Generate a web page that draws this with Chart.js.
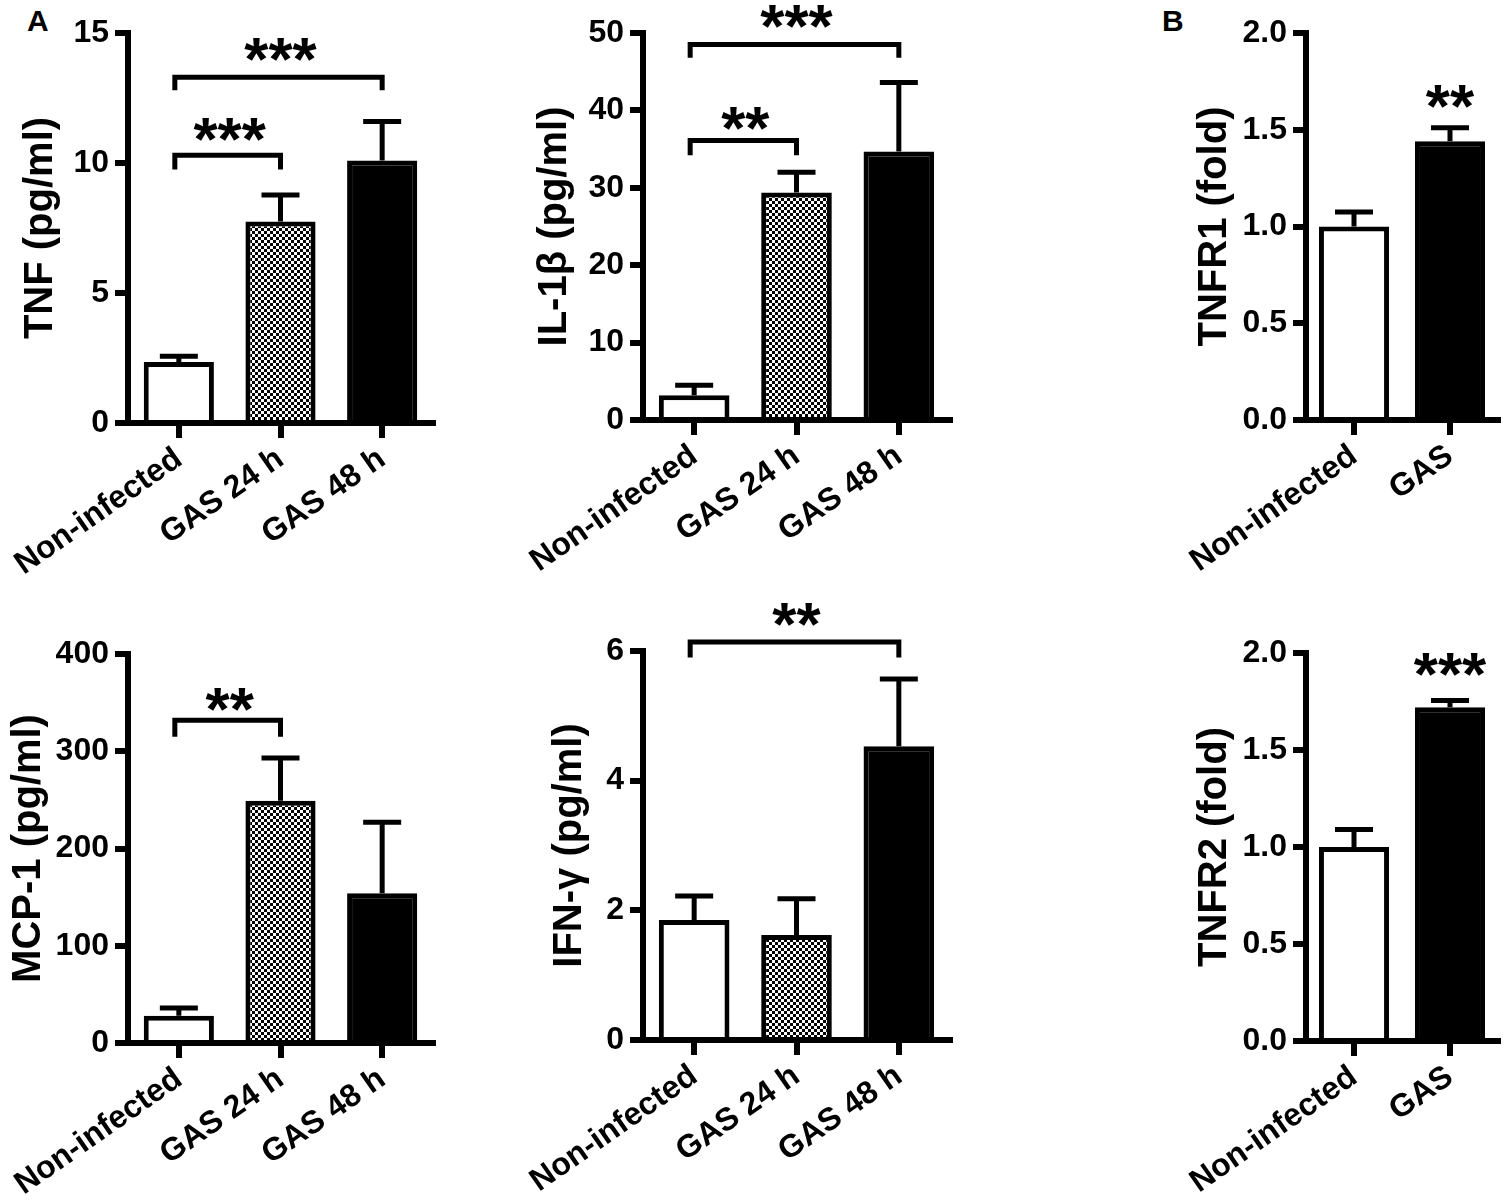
<!DOCTYPE html>
<html>
<head>
<meta charset="utf-8">
<script src="https://cdn.jsdelivr.net/npm/chart.js@4.4.1/dist/chart.umd.min.js"></script>
<style>
  html, body { margin: 0; padding: 0; background: #fff; }
  body { width: 1505px; height: 1203px; position: relative; overflow: hidden; }
  canvas { position: absolute; }
  .tag { position: absolute; font: bold 30px "Liberation Sans", Arial, sans-serif; color: #000; }
</style>
</head>
<body>
<div class="tag" style="left:27px;top:4px">A</div>
<div class="tag" style="left:1162px;top:4px">B</div>
<canvas id="tnf" width="450" height="600" style="left:0;top:0"></canvas>
<canvas id="il1b" width="440" height="600" style="left:520px;top:0"></canvas>
<canvas id="tnfr1" width="355" height="600" style="left:1150px;top:0"></canvas>
<canvas id="mcp1" width="450" height="603" style="left:0;top:600px"></canvas>
<canvas id="ifng" width="440" height="603" style="left:520px;top:600px"></canvas>
<canvas id="tnfr2" width="355" height="603" style="left:1150px;top:600px"></canvas>
<script>
'use strict';

// categories
const groupsTime = ['Non-infected', 'GAS 24 h', 'GAS 48 h'];
const groupsGas = ['Non-infected', 'GAS'];

// means and SEM
const tnfMean = [2.35, 7.75, 10.1];
const tnfSem = [0.22, 1.02, 1.5];
const il1bMean = [3.2, 29.4, 34.7];
const il1bSem = [1.3, 2.6, 8.9];
const mcp1Mean = [28, 249, 154];
const mcp1Sem = [8, 44, 73];
const ifngMean = [1.85, 1.62, 4.53];
const ifngSem = [0.37, 0.56, 1.04];
const tnfr1Mean = [1.0, 1.44];
const tnfr1Sem = [0.075, 0.07];
const tnfr2Mean = [1.0, 1.72];
const tnfr2Sem = [0.09, 0.035];

// y tick values
const tnfTicks = [0, 5, 10, 15];
const il1bTicks = [0, 10, 20, 30, 40, 50];
const mcp1Ticks = [0, 100, 200, 300, 400];
const ifngTicks = [0, 2, 4, 6];
const foldTicks = [0, 0.5, 1.0, 1.5, 2.0];

// significance brackets: from bar, to bar, bracket level, leg end, label, label centre
const tnfSig = [
  { from: 0, to: 1, y: 10.3, leg: 9.75, text: '***', at: 11.3 },
  { from: 0, to: 2, y: 13.3, leg: 12.8, text: '***', at: 14.35 }
];
const il1bSig = [
  { from: 0, to: 1, y: 36.1, leg: 34.2, text: '**', at: 39.0 },
  { from: 0, to: 2, y: 48.5, leg: 46.8, text: '***', at: 52.1 }
];
const mcp1Sig = [{ from: 0, to: 1, y: 332, leg: 315, text: '**', at: 353 }];
const ifngSig = [{ from: 0, to: 2, y: 6.14, leg: 5.9, text: '**', at: 6.57 }];
const tnfr1Sig = [{ from: 1, to: 1, text: '**', at: 1.67 }];
const tnfr2Sig = [{ from: 1, to: 1, text: '***', at: 1.94 }];

const FONT = '"Liberation Sans", Arial, sans-serif';

function checker() {
  const c = document.createElement('canvas');
  c.width = 6; c.height = 6;
  const g = c.getContext('2d');
  g.fillStyle = '#000'; g.fillRect(0, 0, 6, 6);
  g.fillStyle = '#fff';
  g.fillRect(0, 0, 3, 3);
  g.fillRect(3, 3, 3, 3);
  return g.createPattern(c, 'repeat');
}
const checkPattern = checker();

const errorBars = {
  id: 'errorBars',
  afterDatasetsDraw(chart, args, opts) {
    const meta = chart.getDatasetMeta(0);
    const ys = chart.scales.y;
    const data = chart.data.datasets[0].data;
    const ctx = chart.ctx;
    ctx.save();
    ctx.strokeStyle = '#000';
    ctx.lineWidth = 5;
    meta.data.forEach((bar, i) => {
      const top = ys.getPixelForValue(data[i] + opts.sem[i]);
      ctx.beginPath();
      ctx.moveTo(bar.x, bar.y);
      ctx.lineTo(bar.x, top);
      ctx.moveTo(bar.x - 19, top);
      ctx.lineTo(bar.x + 19, top);
      ctx.stroke();
    });
    ctx.restore();
  }
};

const sigMarks = {
  id: 'sigMarks',
  afterDraw(chart, args, opts) {
    const meta = chart.getDatasetMeta(0);
    const ys = chart.scales.y;
    const ctx = chart.ctx;
    ctx.save();
    ctx.strokeStyle = '#000';
    ctx.fillStyle = '#000';
    ctx.lineWidth = 5;
    opts.marks.forEach(m => {
      const x1 = meta.data[m.from].x;
      const x2 = meta.data[m.to].x;
      if (m.from !== m.to) {
        const yb = ys.getPixelForValue(m.y);
        const yl = ys.getPixelForValue(m.leg);
        ctx.beginPath();
        ctx.moveTo(x1 - 4, yl);
        ctx.lineTo(x1 - 4, yb);
        ctx.lineTo(x2, yb);
        ctx.lineTo(x2, yl);
        ctx.stroke();
      }
      ctx.font = 'bold 62px ' + FONT;
      ctx.textAlign = 'center';
      ctx.textBaseline = 'alphabetic';
      const tm = ctx.measureText(m.text);
      const cy = ys.getPixelForValue(m.at);
      ctx.fillText(m.text, (x1 + x2) / 2, cy + (tm.actualBoundingBoxAscent - tm.actualBoundingBoxDescent) / 2);
    });
    ctx.restore();
  }
};

function makePanel(id, cfg) {
  const canvas = document.getElementById(id);
  const W = canvas.width, H = canvas.height;
  const fills = cfg.labels.length === 3 ? ['#fff', checkPattern, '#000'] : ['#fff', '#000'];
  return new Chart(canvas.getContext('2d'), {
    type: 'bar',
    data: {
      labels: cfg.labels,
      datasets: [{
        data: cfg.mean,
        backgroundColor: fills,
        borderColor: '#000',
        borderWidth: 5,
        categoryPercentage: 1,
        barPercentage: cfg.labels.length === 3 ? 0.69 : 0.73
      }]
    },
    options: {
      responsive: false,
      animation: false,
      layout: { padding: { top: cfg.area.top, right: W - cfg.area.right, left: 0, bottom: 0 } },
      plugins: {
        legend: { display: false },
        tooltip: { enabled: false },
        errorBars: { sem: cfg.sem },
        sigMarks: { marks: cfg.sig }
      },
      scales: {
        x: {
          offset: true,
          grid: { offset: false, drawOnChartArea: false, drawTicks: true, tickLength: 15, lineWidth: 6, color: '#000' },
          border: { display: true, width: 6, color: '#000' },
          ticks: {
            color: '#000',
            font: { family: FONT, size: 32, weight: 'bold' },
            minRotation: 35,
            maxRotation: 35,
            autoSkip: false,
            padding: 2
          },
          // rotated labels may hang past the y axis; keep the plot box fixed
          afterFit: s => {
            s.height = H - cfg.area.bottom;
            s.paddingLeft = 0;
            s.paddingRight = 0;
          }
        },
        y: {
          min: cfg.ticks[0],
          max: cfg.ticks[cfg.ticks.length - 1],
          afterBuildTicks: s => { s.ticks = cfg.ticks.map(v => ({ value: v })); },
          grid: { drawOnChartArea: false, drawTicks: true, tickLength: 13, lineWidth: 6, color: '#000' },
          border: { display: true, width: 6, color: '#000' },
          ticks: {
            color: '#000',
            font: { family: FONT, size: 32, weight: 'bold' },
            padding: 6,
            callback: v => cfg.decimals ? v.toFixed(cfg.decimals) : String(v)
          },
          title: {
            display: true,
            text: cfg.title,
            color: '#000',
            font: { family: FONT, size: 40, weight: 'bold' },
            padding: { top: cfg.titlePad, bottom: 0 }
          },
          afterFit: s => {
            s.width = cfg.area.left;
            s.paddingTop = 0;
            s.paddingBottom = 0;
          }
        }
      }
    },
    plugins: [errorBars, sigMarks]
  });
}

makePanel('tnf', {
  labels: groupsTime, mean: tnfMean, sem: tnfSem, ticks: tnfTicks, sig: tnfSig,
  title: 'TNF (pg/ml)', titlePad: 17, area: { left: 128, top: 33, right: 433, bottom: 423 }
});
makePanel('il1b', {
  labels: groupsTime, mean: il1bMean, sem: il1bSem, ticks: il1bTicks, sig: il1bSig,
  title: 'IL-1β (pg/ml)', titlePad: 11, area: { left: 123, top: 33, right: 430, bottom: 420 }
});
makePanel('tnfr1', {
  labels: groupsGas, mean: tnfr1Mean, sem: tnfr1Sem, ticks: foldTicks, sig: tnfr1Sig, decimals: 1,
  title: 'TNFR1 (fold)', titlePad: 41, area: { left: 156, top: 33, right: 348, bottom: 420 }
});
makePanel('mcp1', {
  labels: groupsTime, mean: mcp1Mean, sem: mcp1Sem, ticks: mcp1Ticks, sig: mcp1Sig,
  title: 'MCP-1 (pg/ml)', titlePad: 5, area: { left: 128, top: 54, right: 433, bottom: 443 }
});
makePanel('ifng', {
  labels: groupsTime, mean: ifngMean, sem: ifngSem, ticks: ifngTicks, sig: ifngSig,
  title: 'IFN-γ (pg/ml)', titlePad: 26, area: { left: 123, top: 51, right: 430, bottom: 440 }
});
makePanel('tnfr2', {
  labels: groupsGas, mean: tnfr2Mean, sem: tnfr2Sem, ticks: foldTicks, sig: tnfr2Sig, decimals: 1,
  title: 'TNFR2 (fold)', titlePad: 41, area: { left: 156, top: 53, right: 348, bottom: 441 }
});
</script>
</body>
</html>
